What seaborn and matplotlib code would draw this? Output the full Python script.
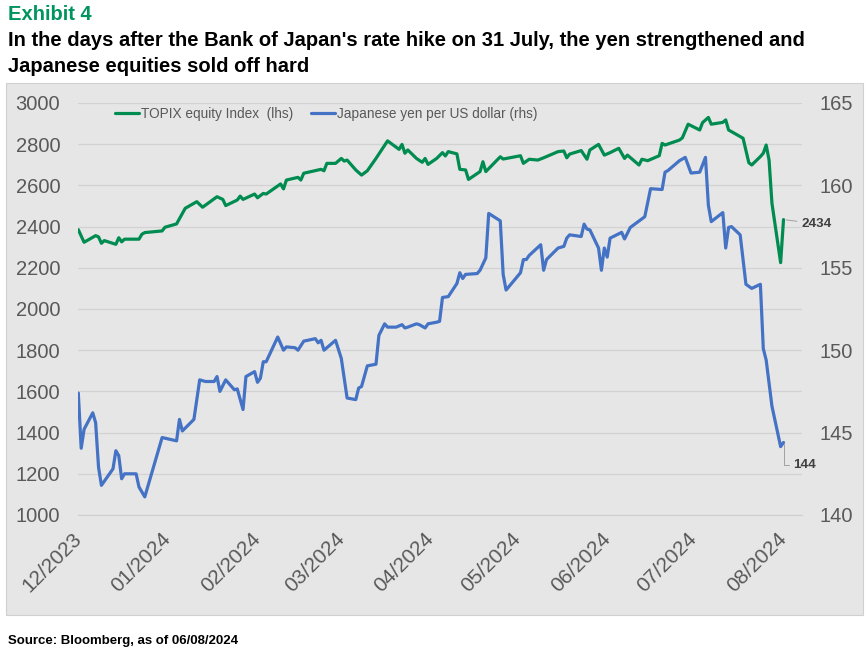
import matplotlib
matplotlib.use("Agg")
import matplotlib.pyplot as plt
import matplotlib.dates as mdates
import matplotlib.patches as mpatches
import pandas as pd
import seaborn as sns

# TOPIX equity index (lhs)
topix_dates = [
    "2023-12-06", "2023-12-08", "2023-12-12", "2023-12-13", "2023-12-14", "2023-12-15",
    "2023-12-19", "2023-12-20", "2023-12-21", "2023-12-22", "2023-12-27", "2023-12-28",
    "2023-12-29", "2024-01-04", "2024-01-05", "2024-01-09", "2024-01-12", "2024-01-16",
    "2024-01-18", "2024-01-23", "2024-01-25", "2024-01-26", "2024-01-30", "2024-01-31",
    "2024-02-01", "2024-02-05", "2024-02-06", "2024-02-08", "2024-02-09", "2024-02-14",
    "2024-02-15", "2024-02-16", "2024-02-20", "2024-02-21", "2024-02-22", "2024-02-28",
    "2024-02-29", "2024-03-01", "2024-03-04", "2024-03-06", "2024-03-07", "2024-03-08",
    "2024-03-11", "2024-03-13", "2024-03-15", "2024-03-18", "2024-03-22", "2024-03-26",
    "2024-03-27", "2024-03-28", "2024-03-29", "2024-04-01", "2024-04-03", "2024-04-04",
    "2024-04-05", "2024-04-08", "2024-04-10", "2024-04-11", "2024-04-12", "2024-04-15",
    "2024-04-16", "2024-04-18", "2024-04-19", "2024-04-23", "2024-04-24", "2024-04-25",
    "2024-04-30", "2024-05-01", "2024-05-07", "2024-05-08", "2024-05-10", "2024-05-13",
    "2024-05-15", "2024-05-20", "2024-05-22", "2024-05-23", "2024-05-24", "2024-05-28",
    "2024-05-30", "2024-05-31", "2024-06-03", "2024-06-05", "2024-06-07", "2024-06-10",
    "2024-06-12", "2024-06-13", "2024-06-17", "2024-06-18", "2024-06-20", "2024-06-24",
    "2024-06-25", "2024-06-26", "2024-07-01", "2024-07-02", "2024-07-04", "2024-07-08",
    "2024-07-09", "2024-07-11", "2024-07-12", "2024-07-16", "2024-07-17", "2024-07-18",
    "2024-07-22", "2024-07-23", "2024-07-25", "2024-07-26", "2024-07-29", "2024-07-30",
    "2024-07-31", "2024-08-01", "2024-08-02", "2024-08-05", "2024-08-06",
]
topix_values = [
    2385, 2324, 2356, 2350, 2319, 2332,
    2314, 2346, 2326, 2339, 2339, 2363,
    2371, 2379, 2397, 2413, 2489, 2521,
    2494, 2545, 2532, 2502, 2529, 2548,
    2532, 2558, 2540, 2561, 2558, 2607,
    2583, 2626, 2639, 2626, 2659, 2678,
    2671, 2707, 2707, 2731, 2718, 2723,
    2675, 2650, 2671, 2731, 2816, 2775,
    2799, 2756, 2772, 2731, 2712, 2731,
    2702, 2731, 2759, 2743, 2764, 2753,
    2678, 2675, 2629, 2667, 2715, 2667,
    2739, 2728, 2744, 2707, 2727, 2723,
    2734, 2764, 2767, 2734, 2752, 2769,
    2727, 2772, 2799, 2747, 2759, 2780,
    2731, 2747, 2699, 2727, 2720, 2744,
    2804, 2796, 2820, 2831, 2897, 2869,
    2905, 2930, 2897, 2906, 2918, 2869,
    2837, 2829, 2710, 2699, 2740, 2756,
    2796, 2723, 2513, 2225, 2434,
]

# Japanese yen per US dollar (rhs)
usdjpy_dates = [
    "2023-12-06", "2023-12-07", "2023-12-08", "2023-12-11", "2023-12-12", "2023-12-13",
    "2023-12-14", "2023-12-18", "2023-12-19", "2023-12-20", "2023-12-21", "2023-12-22",
    "2023-12-26", "2023-12-27", "2023-12-29", "2024-01-04", "2024-01-09", "2024-01-10",
    "2024-01-11", "2024-01-15", "2024-01-17", "2024-01-19", "2024-01-22", "2024-01-23",
    "2024-01-24", "2024-01-26", "2024-01-29", "2024-01-30", "2024-02-01", "2024-02-02",
    "2024-02-05", "2024-02-06", "2024-02-07", "2024-02-08", "2024-02-09", "2024-02-13",
    "2024-02-15", "2024-02-16", "2024-02-19", "2024-02-20", "2024-02-22", "2024-02-26",
    "2024-02-27", "2024-02-28", "2024-02-29", "2024-03-04", "2024-03-06", "2024-03-08",
    "2024-03-11", "2024-03-12", "2024-03-13", "2024-03-15", "2024-03-18", "2024-03-19",
    "2024-03-21", "2024-03-22", "2024-03-25", "2024-03-27", "2024-03-28", "2024-03-29",
    "2024-04-01", "2024-04-02", "2024-04-04", "2024-04-05", "2024-04-08", "2024-04-09",
    "2024-04-10", "2024-04-12", "2024-04-15", "2024-04-16", "2024-04-17", "2024-04-18",
    "2024-04-22", "2024-04-23", "2024-04-25", "2024-04-26", "2024-04-30", "2024-05-01",
    "2024-05-02", "2024-05-07", "2024-05-08", "2024-05-09", "2024-05-10", "2024-05-14",
    "2024-05-15", "2024-05-16", "2024-05-20", "2024-05-22", "2024-05-23", "2024-05-24",
    "2024-05-28", "2024-05-29", "2024-05-30", "2024-05-31", "2024-06-03", "2024-06-04",
    "2024-06-05", "2024-06-06", "2024-06-07", "2024-06-11", "2024-06-12", "2024-06-14",
    "2024-06-19", "2024-06-21", "2024-06-25", "2024-06-26", "2024-06-27", "2024-07-01",
    "2024-07-03", "2024-07-05", "2024-07-08", "2024-07-10", "2024-07-11", "2024-07-12",
    "2024-07-16", "2024-07-17", "2024-07-18", "2024-07-19", "2024-07-22", "2024-07-24",
    "2024-07-26", "2024-07-29", "2024-07-30", "2024-07-31", "2024-08-02", "2024-08-05",
    "2024-08-06",
]
usdjpy_values = [
    147.4, 144.05, 145.2, 146.2, 145.6, 142.9,
    141.8, 142.8, 143.9, 143.6, 142.2, 142.5,
    142.5, 141.7, 141.1, 144.7, 144.5, 145.8,
    145.1, 145.8, 148.2, 148.1, 148.1, 148.4,
    147.5, 148.2, 147.6, 147.65, 146.4, 148.4,
    148.7, 148.05, 148.3, 149.3, 149.3, 150.8,
    150.0, 150.2, 150.15, 150.0, 150.55, 150.7,
    150.45, 150.6, 150.0, 150.6, 149.5, 147.1,
    147.0, 147.7, 147.8, 149.05, 149.15, 150.9,
    151.6, 151.4, 151.4, 151.55, 151.35, 151.4,
    151.6, 151.55, 151.35, 151.6, 151.7, 151.75,
    153.2, 153.25, 154.05, 154.7, 154.35, 154.6,
    154.65, 154.85, 155.6, 158.3, 157.85, 154.6,
    153.65, 154.7, 155.5, 155.5, 155.75, 156.4,
    154.85, 155.5, 156.2, 156.3, 156.8, 157.0,
    156.9, 157.65, 157.35, 157.3, 156.2, 154.85,
    156.2, 155.65, 156.8, 157.15, 156.75, 157.45,
    158.1, 159.8, 159.75, 160.8, 160.9, 161.5,
    161.7, 160.75, 160.8, 161.7, 158.8, 157.8,
    158.35, 156.2, 157.45, 157.5, 157.0, 154.0,
    153.75, 154.0, 150.1, 149.4, 146.6, 144.15,
    144.4,
]

tick_dates = ["2023-12-06", "2024-01-06", "2024-02-06", "2024-03-06", "2024-04-06",
              "2024-05-06", "2024-06-06", "2024-07-06", "2024-08-06"]

green = "#008C50"
blue = "#4472C4"
grey_text = "#595959"

sns.set_style("white")
plt.rcParams["font.family"] = ["Liberation Sans", "DejaVu Sans"]

topix = pd.DataFrame({"date": pd.to_datetime(topix_dates), "value": topix_values})
usdjpy = pd.DataFrame({"date": pd.to_datetime(usdjpy_dates), "value": usdjpy_values})

fig = plt.figure(figsize=(8.67, 6.56), dpi=100)

# grey chart panel behind the axes
fig.add_artist(mpatches.Rectangle((6 / 867, 1 - 615 / 656), 857 / 867, 532 / 656,
                                  transform=fig.transFigure, facecolor="#E7E6E6",
                                  edgecolor="#D0D0D0", linewidth=0.8, zorder=0))

ax = fig.add_axes([78.3 / 867, 1 - 515 / 656, (801.7 - 78.3) / 867, 412 / 656])
ax.patch.set_alpha(0)
ax2 = ax.twinx()
ax2.patch.set_alpha(0)

sns.lineplot(data=topix, x="date", y="value", ax=ax, color=green, linewidth=2.3,
             label="TOPIX equity Index  (lhs)", legend=False)
sns.lineplot(data=usdjpy, x="date", y="value", ax=ax2, color=blue, linewidth=2.3,
             label="Japanese yen per US dollar (rhs)", legend=False)

ax.set_xlim(pd.Timestamp("2023-12-06"), pd.Timestamp("2024-08-12 07:00"))
ax.set_ylim(1000, 3000)
ax2.set_ylim(140, 165)
ax.set_yticks(range(1000, 3001, 200))
ax2.set_yticks(range(140, 166, 5))
ax.set_xticks(pd.to_datetime(tick_dates))
ax.xaxis.set_major_formatter(mdates.DateFormatter("%m/%Y"))

ax.grid(axis="y", color="#D2D2D2", linewidth=0.9)
ax.grid(axis="x", visible=False)
ax2.grid(False)
for a in (ax, ax2):
    for s in a.spines.values():
        s.set_visible(False)
    a.set_xlabel("")
    a.set_ylabel("")
ax.spines["bottom"].set_visible(True)
ax.spines["bottom"].set_color("#CFCFCF")

ax.tick_params(axis="y", length=0, pad=13, labelsize=14.5, labelcolor=grey_text)
ax2.tick_params(axis="y", length=0, pad=13, labelsize=14.5, labelcolor=grey_text)
ax.tick_params(axis="x", length=4, color="#CFCFCF", pad=11, labelsize=15, labelcolor=grey_text)
for lab in ax.get_xticklabels():
    lab.set_rotation(45)
    lab.set_ha("right")
    lab.set_va("center")
    lab.set_rotation_mode("anchor")

# legend inside top of plot
h1, l1 = ax.get_legend_handles_labels()
h2, l2 = ax2.get_legend_handles_labels()
fig.legend(h1 + h2, l1 + l2, loc="center left", bbox_to_anchor=(115 / 867, 1 - 114 / 656),
           ncol=2, frameon=False, labelcolor=grey_text, handlelength=1.75,
           handletextpad=0.15, columnspacing=1.3, borderpad=0, borderaxespad=0,
           prop={"size": 9.8})

# end-point labels
last_t = topix["date"].iloc[-1]
ax.annotate(f"{topix_values[-1]:.0f}", xy=(last_t, topix_values[-1]), xytext=(13, -3),
            textcoords="offset points", fontsize=9.7, fontweight="bold", color="#404040",
            va="center", ha="left",
            arrowprops=dict(arrowstyle="-", color="#A0A0A0", lw=0.7, shrinkA=1, shrinkB=2))
last_u = usdjpy["date"].iloc[-1]
ax2.annotate(f"{usdjpy_values[-1]:.0f}", xy=(last_u, usdjpy_values[-1]), xytext=(7, -16),
             textcoords="offset points", fontsize=9.7, fontweight="bold", color="#404040",
             va="center", ha="left",
             arrowprops=dict(arrowstyle="-", color="#A0A0A0", lw=0.7, shrinkA=1, shrinkB=1,
                             connectionstyle="angle,angleA=0,angleB=90,rad=0"))

fig.text(8 / 867, 1 - 14 / 656, "Exhibit 4", color="#00945E", fontsize=14.5,
         fontweight="bold", va="center", ha="left")
fig.text(8 / 867, 1 - 41 / 656,
         "In the days after the Bank of Japan's rate hike on 31 July, the yen strengthened and",
         color="black", fontsize=14.5, fontweight="bold", va="center", ha="left")
fig.text(8 / 867, 1 - 66 / 656, "Japanese equities sold off hard",
         color="black", fontsize=14.5, fontweight="bold", va="center", ha="left")
fig.text(8 / 867, 1 - 641 / 656, "Source: Bloomberg, as of 06/08/2024", color="black",
         fontsize=9.5, fontweight="bold", va="center", ha="left")

fig.savefig("out.png", dpi=100)
